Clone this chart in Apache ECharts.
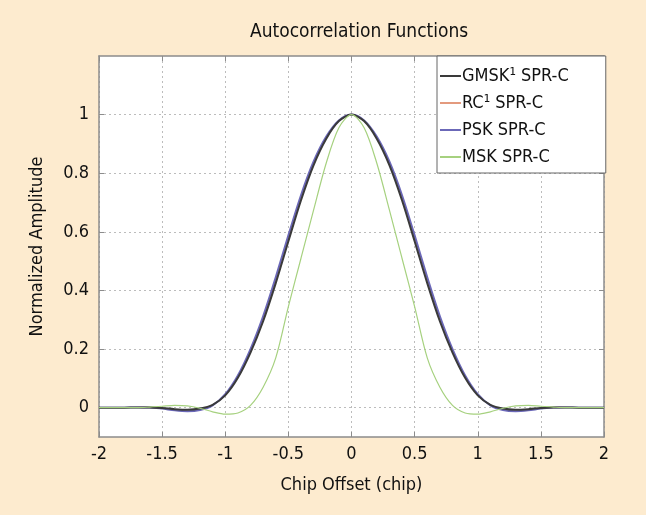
<!DOCTYPE html>
<html>
<head>
<meta charset="utf-8">
<script src="https://cdn.jsdelivr.net/npm/echarts@6/dist/echarts.min.js"></script>
<style>
html,body{margin:0;padding:0;background:#fdebcf;}
#chart{width:646px;height:515px;}
</style>
</head>
<body>
<div id="chart"></div>
<script>
// Chip offsets (chip)
const offsets = [-2,-1.9,-1.8,-1.7,-1.6,-1.5,-1.4,-1.3,-1.2,-1.1,-1,-0.9,-0.8,-0.7,-0.6,-0.5,-0.4,-0.3,-0.2,-0.1,0,0.1,0.2,0.3,0.4,0.5,0.6,0.7,0.8,0.9,1,1.1,1.2,1.3,1.4,1.5,1.6,1.7,1.8,1.9,2];
const gmsk = [0,0,0,0.001,0.001,-0.001,-0.005,-0.007,-0.003,0.010,0.042,0.102,0.188,0.295,0.425,0.568,0.708,0.828,0.918,0.978,1.0,0.978,0.918,0.828,0.708,0.568,0.425,0.295,0.188,0.102,0.042,0.010,-0.003,-0.007,-0.005,-0.001,0.001,0.001,0,0,0];
const rc   = [0,0,0,0.001,0.002,-0.002,-0.008,-0.011,-0.006,0.009,0.044,0.106,0.194,0.303,0.435,0.578,0.716,0.834,0.921,0.979,1.0,0.979,0.921,0.834,0.716,0.578,0.435,0.303,0.194,0.106,0.044,0.009,-0.006,-0.011,-0.008,-0.002,0.002,0.001,0,0,0];
const psk  = [0,0,0,0.001,0.001,-0.003,-0.009,-0.012,-0.008,0.008,0.046,0.110,0.200,0.312,0.445,0.588,0.725,0.840,0.925,0.980,1.0,0.980,0.925,0.840,0.725,0.588,0.445,0.312,0.200,0.110,0.046,0.008,-0.008,-0.012,-0.009,-0.003,0.001,0.001,0,0,0];
const msk  = [0,0,0,0,0.002,0.005,0.008,0.006,-0.002,-0.014,-0.022,-0.018,0.008,0.070,0.170,0.345,0.510,0.675,0.835,0.955,1.0,0.955,0.835,0.675,0.510,0.345,0.170,0.070,0.008,-0.018,-0.022,-0.014,-0.002,0.006,0.008,0.005,0.002,0,0,0,0];
const seriesNames = ['GMSK¹ SPR-C','RC¹ SPR-C','PSK SPR-C','MSK SPR-C'];
const yTicks = [0,0.2,0.4,0.6,0.8,1];

const FONT = "'Liberation Sans Narrow','DejaVu Sans Condensed','Roboto Condensed',sans-serif";
const pairs = arr => offsets.map((x,i)=>[x,arr[i]]);
const grid = {left:99, top:56, width:505, height:381};
const chart = echarts.init(document.getElementById('chart'));
const splitStyle = {show:true, lineStyle:{color:'#bcbcbc', type:[2,3], width:1}};
const frameLine = {show:true, onZero:false, lineStyle:{color:'#8c8c8c', width:1.5}};
const tick = {show:true, inside:true, length:5, lineStyle:{color:'#8c8c8c'}};
chart.setOption({
  backgroundColor:'#fdebcf',
  animation:false,
  title:{text:'Autocorrelation Functions', left:245, top:18,
    textStyle:{fontFamily:FONT, fontSize:19, fontWeight:'normal', color:'#111'}},
  grid:Object.assign({backgroundColor:'#fff', show:true, borderWidth:0}, grid),
  legend:{
    data:seriesNames, orient:'vertical', left:437, top:56, width:160,
    backgroundColor:'#fff', borderColor:'#666', borderWidth:1,
    padding:[11,37,7,3], itemGap:9, itemWidth:21, itemHeight:2, icon:'rect',
    textStyle:{fontFamily:FONT, fontSize:18, color:'#111', padding:[0,0,0,-4]}
  },
  xAxis:[{
    type:'value', min:-2, max:2, interval:0.5,
    name:'Chip Offset (chip)', nameLocation:'middle', nameGap:39,
    nameTextStyle:{fontFamily:FONT, fontSize:18, color:'#111'},
    axisLine:frameLine, axisTick:tick, splitLine:splitStyle,
    axisLabel:{fontFamily:FONT, fontSize:18, color:'#111', margin:8}
  },{
    type:'value', min:-2, max:2, interval:0.5, position:'top',
    axisLine:frameLine, axisTick:tick, splitLine:{show:false}, axisLabel:{show:false}
  }],
  yAxis:[{
    type:'value', min:-0.1, max:1.2,
    name:'Normalized Amplitude', nameLocation:'middle', nameGap:53,
    nameTextStyle:{fontFamily:FONT, fontSize:18, color:'#111'},
    axisLine:frameLine, axisTick:Object.assign({customValues:yTicks}, tick), splitLine:splitStyle,
    axisLabel:{customValues:yTicks, fontFamily:FONT, fontSize:18, color:'#111', margin:10}
  },{
    type:'value', min:-0.1, max:1.2, position:'right',
    axisLine:frameLine, axisTick:Object.assign({customValues:yTicks}, tick), splitLine:{show:false},
    axisLabel:{show:false, customValues:yTicks}
  }],
  series:[
    {name:seriesNames[0], type:'line', data:pairs(gmsk), smooth:0.3, showSymbol:false, symbol:'none', lineStyle:{color:'#3a3a3a', width:2}, itemStyle:{color:'#3a3a3a'}, z:5},
    {name:seriesNames[1], type:'line', data:pairs(rc), smooth:0.3, showSymbol:false, symbol:'none', lineStyle:{color:'#e39a7e', width:1}, itemStyle:{color:'#e39a7e'}, z:3},
    {name:seriesNames[2], type:'line', data:pairs(psk), smooth:0.3, showSymbol:false, symbol:'none', lineStyle:{color:'#6b68b8', width:2}, itemStyle:{color:'#6b68b8'}, z:4},
    {name:seriesNames[3], type:'line', data:pairs(msk), smooth:0.3, showSymbol:false, symbol:'none', lineStyle:{color:'#a6d17f', width:1.2}, itemStyle:{color:'#a6d17f'}, z:6}
  ]
});
</script>
</body>
</html>
